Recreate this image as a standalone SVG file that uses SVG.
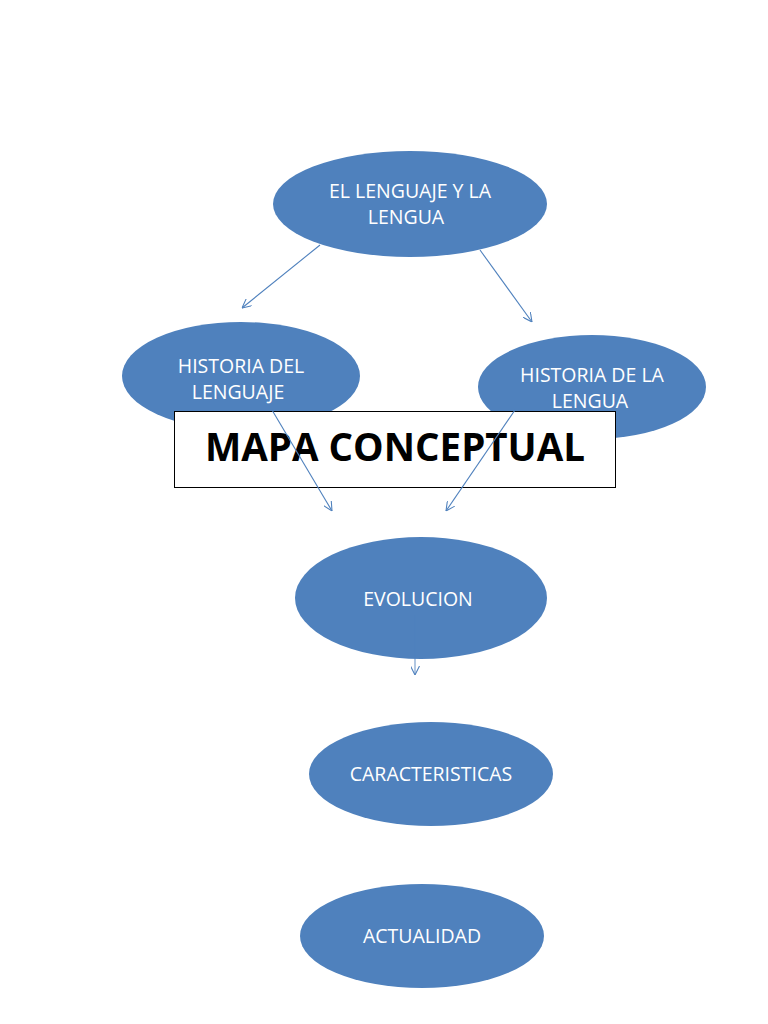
<svg xmlns="http://www.w3.org/2000/svg" width="768" height="1024" viewBox="0 0 768 1024">
<style>
.n{fill:#4F81BD;}
.t{fill:#ffffff;font-family:"Open Sans","Liberation Sans",sans-serif;font-size:19.5px;text-anchor:middle;}
.c{stroke:#4F81BD;stroke-width:1.1;fill:none;marker-end:url(#a);}
</style>
<defs>
<marker id="a" viewBox="0 0 10 10" refX="10" refY="5" markerWidth="9" markerHeight="9" markerUnits="userSpaceOnUse" orient="auto">
<path d="M0,0 L10,5 L0,10" fill="none" stroke="#4F81BD" stroke-width="1.2"/>
</marker>
</defs>
<rect width="768" height="1024" fill="#ffffff"/>
<g id="n1"><ellipse class="n" cx="410" cy="204" rx="137" ry="53"/><text class="t" x="410" y="198">EL LENGUAJE Y LA</text><text class="t" x="406" y="224">LENGUA</text></g>
<g id="n2"><ellipse class="n" cx="241" cy="376" rx="119" ry="54"/><text class="t" x="241" y="373">HISTORIA DEL</text><text class="t" x="238" y="399">LENGUAJE</text></g>
<g id="n3"><ellipse class="n" cx="592" cy="387" rx="114" ry="52"/><text class="t" x="592" y="382">HISTORIA DE LA</text><text class="t" x="590" y="408">LENGUA</text></g>
<g id="title"><rect x="174.5" y="411.5" width="441" height="76" fill="#ffffff" stroke="#000000" stroke-width="1"/><text x="395" y="461" font-family="'Open Sans','Liberation Sans',sans-serif" font-size="38.5" font-weight="bold" text-anchor="middle" fill="#000000">MAPA CONCEPTUAL</text></g>
<g id="n4"><ellipse class="n" cx="421" cy="598" rx="126" ry="61"/><text class="t" x="418" y="606">EVOLUCION</text></g>
<g id="n5"><ellipse class="n" cx="431" cy="774" rx="122" ry="52"/><text class="t" x="431" y="781">CARACTERISTICAS</text></g>
<g id="n6"><ellipse class="n" cx="422" cy="936" rx="122" ry="52"/><text class="t" x="422" y="943">ACTUALIDAD</text></g>
<g id="connectors">
<line class="c" x1="320" y1="245" x2="242" y2="308"/>
<line class="c" x1="480" y1="250" x2="532" y2="322"/>
<line class="c" x1="272" y1="410" x2="332" y2="511"/>
<line class="c" x1="515" y1="410" x2="446" y2="511"/>
<line class="c" x1="415" y1="615" x2="415" y2="675" stroke-opacity="0.8"/>
</g>
</svg>
